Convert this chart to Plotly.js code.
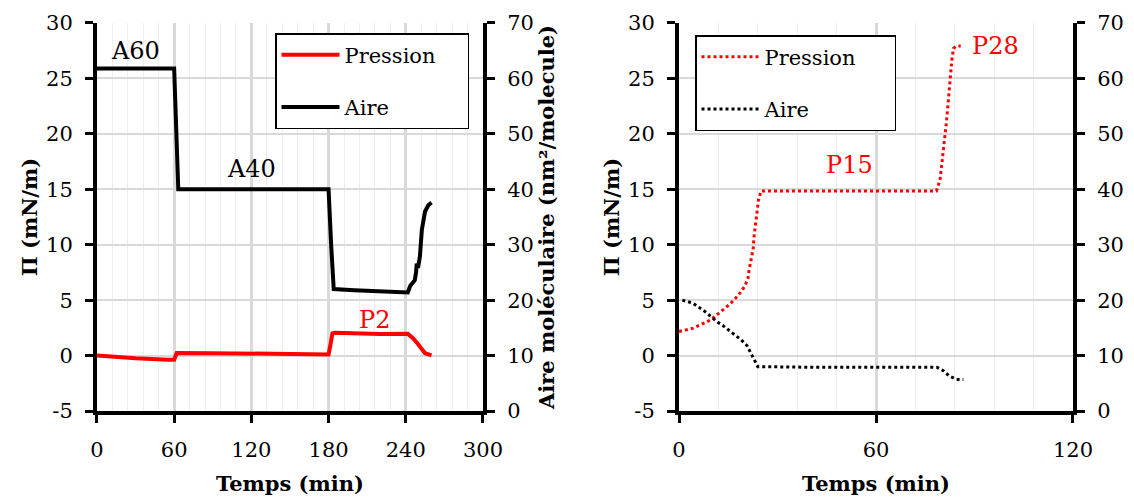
<!DOCTYPE html>
<html>
<head>
<meta charset="utf-8">
<script src="https://cdn.plot.ly/plotly-3.0.1.min.js"></script>
<style>html,body{margin:0;padding:0;background:#fff}#chart{width:1134px;height:504px}</style>
</head>
<body>
<div id="chart"></div>
<script>
// ---- Left chart (Temps 0-300 min) ----
var leftTime_Aire = [0, 60, 63.2, 180, 182, 183, 184, 200, 220, 241.6, 243.5, 245.6, 247, 248, 248.5, 249.5, 251, 252.5, 255, 257.5, 260];
var leftAire      = [61.8, 61.8, 40, 40, 30, 24, 22.0, 21.8, 21.6, 21.4, 22.6, 23.1, 23.6, 25.0, 26.6, 25.8, 27.9, 32.7, 36.0, 37.1, 37.6];
var leftTime_Pres = [0, 10, 30, 55, 60, 61.5, 62, 90, 120, 150, 180, 181.5, 183, 185, 200, 220, 241.6, 245.6, 249, 252.5, 255, 260];
var leftPression  = [0, -0.1, -0.25, -0.38, -0.38, 0.1, 0.24, 0.22, 0.15, 0.12, 0.1, 1.0, 2.0, 2.05, 2.0, 1.95, 1.96, 1.57, 1.12, 0.51, 0.21, 0.02];

// ---- Right chart (Temps 0-120 min) ----
var rightTime_Pres = [0, 1.9, 4.3, 6.2, 8.3, 10.0, 11.8, 13.8, 15.6, 17.2, 18.8, 20.1, 21.0, 21.3, 21.8, 22.1, 22.6, 22.8, 23.1, 23.4, 23.7, 24.2, 25, 40, 60, 78.4, 79.5, 80, 80.5, 81, 81.3, 81.7, 82, 82.4, 82.8, 83.1, 83.6, 84.6, 85.8];
var rightPression  = [2.17, 2.32, 2.47, 2.74, 3.01, 3.31, 3.73, 4.18, 4.66, 5.17, 5.72, 6.31, 6.98, 7.64, 8.33, 8.99, 9.68, 10.59, 11.33, 12.24, 13.14, 14.04, 14.85, 14.85, 14.85, 14.85, 15.84, 17.04, 18.25, 19.45, 20.65, 21.86, 23.06, 24.26, 25.46, 26.66, 27.72, 27.93, 27.93];
var rightTime_Aire = [1, 1.6, 4.1, 7.8, 9.9, 11.6, 13.4, 15.4, 17.2, 19.0, 20.7, 21.8, 22.9, 24.0, 40, 60, 78.5, 80.4, 82.3, 84.5, 86.6];
var rightAire      = [20.0, 19.9, 19.5, 18.0, 16.9, 16.1, 15.4, 14.5, 13.7, 12.8, 11.8, 10.5, 9.4, 8.0, 7.9, 7.9, 7.9, 7.3, 6.3, 5.7, 5.7];

// ---- Ticks and labels ----
var piTicks = [-5, 0, 5, 10, 15, 20, 25, 30];
var aireTicks = [0, 10, 20, 30, 40, 50, 60, 70];
var leftTimeTicks = [0, 60, 120, 180, 240, 300];
var rightTimeTicks = [0, 60, 120];
var seriesNames = ["Pression", "Aire"];
var xTitle = "Temps (min)";
var yTitle = "Π (mN/m)";
var y2Title = "Aire moléculaire (nm²/molecule)";
var labelsLeft = [{t: "A60", x: 30, y: 27.5, c: "#000000"}, {t: "A40", x: 120, y: 16.8, c: "#000000"}, {t: "P2", x: 216, y: 3.2, c: "#ff0000"}];
var labelsRight = [{t: "P15", x: 52, y: 17.2, c: "#ff0000"}, {t: "P28", x: 96.5, y: 27.9, c: "#ff0000"}];

var FONT = "'DejaVu Serif', 'Liberation Serif', serif";
var RED = "#ff0000";
var PADL = "\u00a0\u00a0\u00a0\u00a0";
var PADR = "\u00a0\u00a0\u00a0\u00a0\u00a0";

var traces = [
  {x: leftTime_Pres, y: leftPression, xaxis: "x", yaxis: "y", mode: "lines", name: seriesNames[0] + PADL,
   line: {color: RED, width: 4}, legend: "legend", legendgroup: "a"},
  {x: leftTime_Aire, y: leftAire, xaxis: "x", yaxis: "y2", mode: "lines", name: seriesNames[1],
   line: {color: "#000", width: 4}, legend: "legend", legendgroup: "b"},
  {x: rightTime_Pres, y: rightPression, xaxis: "x2", yaxis: "y3", mode: "lines", name: seriesNames[0] + PADR,
   line: {color: RED, width: 3, dash: "dot"}, legend: "legend2", legendgroup: "c"},
  {x: rightTime_Aire, y: rightAire, xaxis: "x2", yaxis: "y4", mode: "lines", name: seriesNames[1],
   line: {color: "#000", width: 3, dash: "dot"}, legend: "legend2", legendgroup: "d"}
];

var tickFont = {family: FONT, size: 21, color: "#000"};
var titleFont = {family: FONT, size: 21, color: "#000", weight: "bold"};

function xAxis(domain, range, ticks, anchor) {
  return {
    domain: domain, range: range, anchor: anchor, tickvals: ticks, ticktext: ticks.map(String),
    showgrid: true, gridcolor: "#d9d9d9", gridwidth: 3,
    minor: {dtick: 12, tick0: 0, showgrid: true, gridcolor: "#eeeeee", gridwidth: 1, ticks: ""},
    showline: true, linecolor: "#000", linewidth: 4, zeroline: false,
    ticks: "outside", ticklen: 8, tickwidth: 3, tickcolor: "#000",
    tickfont: tickFont, ticklabelstandoff: 9,
    title: {text: "<b>" + xTitle + "</b>", font: titleFont, standoff: 16},
    fixedrange: true
  };
}
function yAxisLeft(anchor, title, standoff) {
  return {
    domain: [0.1845, 0.9544], range: [-5, 30], anchor: anchor, tickvals: piTicks, ticktext: piTicks.map(String),
    showgrid: true, gridcolor: "#d9d9d9", gridwidth: 2,
    showline: true, linecolor: "#000", linewidth: 4, zeroline: false,
    ticks: "outside", ticklen: 8, tickwidth: 3, tickcolor: "#000",
    tickfont: tickFont, ticklabelstandoff: 8,
    title: {text: "<b>" + title + "</b>", font: titleFont, standoff: standoff},
    fixedrange: true
  };
}
function yAxisRight(anchor, overlay, title) {
  var ax = {
    overlaying: overlay, side: "right", anchor: anchor, range: [0, 70], tickvals: aireTicks, ticktext: aireTicks.map(String),
    showgrid: false, showline: true, linecolor: "#000", linewidth: 4, zeroline: false,
    ticks: "outside", ticklen: 8, tickwidth: 3, tickcolor: "#000",
    tickfont: tickFont, ticklabelstandoff: 8, fixedrange: true
  };
  if (title) ax.title = {text: "<b>" + title + "</b>", font: titleFont, standoff: 2};
  return ax;
}

var annotations = [];
labelsLeft.forEach(function (l) {
  annotations.push({text: l.t, x: l.x, y: l.y, xref: "x", yref: "y", showarrow: false, font: {family: FONT, size: 24, color: l.c}});
});
labelsRight.forEach(function (l) {
  annotations.push({text: l.t, x: l.x, y: l.y, xref: "x2", yref: "y3", showarrow: false, font: {family: FONT, size: 24, color: l.c}});
});

var legendBase = {
  bgcolor: "#fff", bordercolor: "#000", borderwidth: 1.5,
  font: {family: FONT, size: 21, color: "#000"}, tracegroupgap: 22, itemwidth: 58,
  xanchor: "left", yanchor: "top", orientation: "v", itemclick: false, itemdoubleclick: false
};

var layout = {
  width: 1134, height: 504,
  margin: {l: 0, r: 0, t: 0, b: 0},
  paper_bgcolor: "#fff", plot_bgcolor: "#fff",
  showlegend: true,
  font: {family: FONT, color: "#000"},
  xaxis: xAxis([0.0855, 0.4259], [0, 300], leftTimeTicks, "y"),
  yaxis: yAxisLeft("x", yTitle, 4),
  yaxis2: yAxisRight("x", "y", y2Title),
  xaxis2: xAxis([0.5988, 0.9462], [0, 120], rightTimeTicks, "y3"),
  yaxis3: yAxisLeft("x2", yTitle, 4),
  yaxis4: yAxisRight("x2", "y3", null),
  legend: Object.assign({}, legendBase, {x: 275 / 1134, y: (504 - 33) / 504}),
  legend2: Object.assign({}, legendBase, {x: 695 / 1134, y: (504 - 35) / 504}),
  annotations: annotations
};

Plotly.newPlot("chart", traces, layout, {displayModeBar: false, staticPlot: true});
</script>
</body>
</html>
